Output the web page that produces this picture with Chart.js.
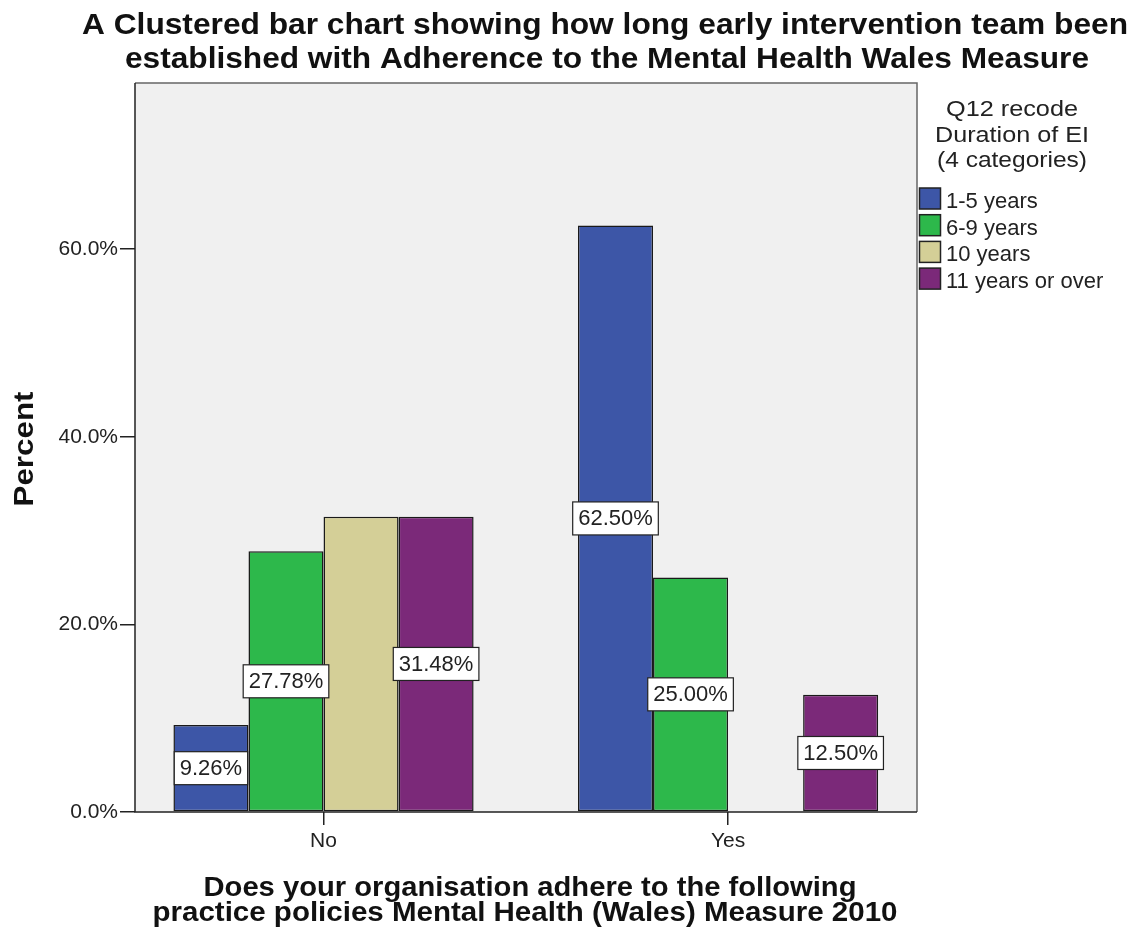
<!DOCTYPE html>
<html>
<head>
<meta charset="utf-8">
<script src="https://cdn.jsdelivr.net/npm/chart.js@4/dist/chart.umd.min.js"></script>
<style>
  html, body { margin: 0; padding: 0; background: #fff; }
  canvas { display: block; }
</style>
</head>
<body>
<canvas id="adherenceChart" width="1147" height="936"></canvas>
<script>
const adherenceGroups = ["No", "Yes"];
const durationLabels = ["1-5 years", "6-9 years", "10 years", "11 years or over"];
const years1to5 = [9.26, 62.5];
const years6to9 = [27.78, 25.0];
const years10 = [31.48, null];
const years11plus = [31.48, 12.5];
// the 10 years bar in the "No" cluster has no value box
const showValue = [[true, true], [true, true], [false, false], [true, true]];
const percentTicks = [0, 20, 40, 60];
const legendTitleLines = ["Q12 recode", "Duration of EI", "(4 categories)"];
const titleLines = [
  "A Clustered bar chart showing how long early intervention team been",
  "established with Adherence to the Mental Health Wales Measure"
];
const xTitleLines = [
  "Does your organisation adhere to the following",
  "practice policies Mental Health (Wales) Measure 2010"
];
const yTitle = "Percent";

const seriesColors = ["#3d56a7", "#2db84b", "#d4cf97", "#7b2979"];
const FONT = '"Liberation Sans", Arial, sans-serif';

const toPoints = (values) => values.map((v, i) => ({ x: i, y: v }));

// draws text squeezed or stretched to a given width
function fitText(ctx, text, x, y, width) {
  const w = ctx.measureText(text).width;
  ctx.save();
  ctx.translate(x, y);
  ctx.scale(width / w, 1);
  ctx.fillText(text, 0, 0);
  ctx.restore();
}

const plotFrame = {
  id: "plotFrame",
  beforeDatasetsDraw(chart) {
    const { ctx, chartArea: a } = chart;
    ctx.save();
    ctx.fillStyle = "#f0f0f0";
    ctx.fillRect(a.left, a.top, a.right - a.left, a.bottom - a.top);
    ctx.restore();
  },
  afterDatasetsDraw(chart) {
    const { ctx, chartArea: a } = chart;
    ctx.save();
    ctx.lineWidth = 1.5;
    ctx.strokeStyle = "#666";
    ctx.beginPath();
    ctx.moveTo(a.left, a.top);
    ctx.lineTo(a.right, a.top);
    ctx.lineTo(a.right, a.bottom);
    ctx.stroke();
    ctx.strokeStyle = "#222";
    ctx.beginPath();
    ctx.moveTo(a.left, a.top);
    ctx.lineTo(a.left, a.bottom);
    ctx.lineTo(a.right, a.bottom);
    ctx.stroke();
    ctx.restore();
  }
};

const valueBoxes = {
  id: "valueBoxes",
  afterDatasetsDraw(chart) {
    const ctx = chart.ctx;
    ctx.save();
    ctx.font = "22px " + FONT;
    ctx.textAlign = "center";
    ctx.textBaseline = "middle";
    chart.data.datasets.forEach((ds, di) => {
      const meta = chart.getDatasetMeta(di);
      meta.data.forEach((bar, i) => {
        const v = ds.data[i].y;
        if (v === null || !showValue[di][i]) return;
        const text = v.toFixed(2) + "%";
        const w = ctx.measureText(text).width + 11;
        const h = 33;
        const cy = (bar.y + bar.base) / 2;
        ctx.fillStyle = "#fff";
        ctx.fillRect(bar.x - w / 2, cy - h / 2, w, h);
        ctx.strokeStyle = "#222";
        ctx.lineWidth = 1.2;
        ctx.strokeRect(bar.x - w / 2, cy - h / 2, w, h);
        ctx.fillStyle = "#222";
        ctx.fillText(text, bar.x, cy + 1);
      });
    });
    ctx.restore();
  }
};

const textLayer = {
  id: "textLayer",
  afterDraw(chart) {
    const ctx = chart.ctx;
    ctx.save();
    ctx.fillStyle = "#111";
    ctx.textAlign = "center";
    ctx.textBaseline = "alphabetic";

    // main title
    ctx.font = "bold 30px " + FONT;
    fitText(ctx, titleLines[0], 605, 34, 1046);
    fitText(ctx, titleLines[1], 607, 68, 964);

    // axis titles
    ctx.font = "bold 27px " + FONT;
    fitText(ctx, xTitleLines[0], 530, 896, 653);
    fitText(ctx, xTitleLines[1], 525, 921, 745);
    ctx.save();
    ctx.translate(33, 449);
    ctx.rotate(-Math.PI / 2);
    ctx.font = "bold 28px " + FONT;
    fitText(ctx, yTitle, 0, 0, 115);
    ctx.restore();

    // legend
    ctx.fillStyle = "#222";
    ctx.font = "22px " + FONT;
    legendTitleLines.forEach((line, i) => {
      fitText(ctx, line, 1012, 116 + i * 25.5, [132, 154, 150][i]);
    });
    ctx.textAlign = "left";
    chart.data.datasets.forEach((ds, i) => {
      const y = 188 + i * 26.7;
      ctx.fillStyle = ds.backgroundColor;
      ctx.fillRect(919.5, y, 21, 21);
      ctx.strokeStyle = "#222";
      ctx.lineWidth = 1.5;
      ctx.strokeRect(919.5, y, 21, 21);
      ctx.fillStyle = "#222";
      ctx.fillText(ds.label, 946, y + 20);
    });
    ctx.restore();
  }
};

const series = [years1to5, years6to9, years10, years11plus];

new Chart(document.getElementById("adherenceChart"), {
  type: "bar",
  data: {
    datasets: series.map((values, i) => ({
      label: durationLabels[i],
      data: toPoints(values),
      backgroundColor: seriesColors[i],
      borderColor: "#1a1a1a",
      borderWidth: 1.5,
      borderSkipped: false,
      categoryPercentage: 0.742,
      barPercentage: 1.0
    }))
  },
  options: {
    responsive: false,
    animation: false,
    devicePixelRatio: 1,
    layout: { padding: { top: 83, right: 230, bottom: 0, left: 0 } },
    plugins: {
      legend: { display: false },
      tooltip: { enabled: false }
    },
    scales: {
      x: {
        type: "linear",
        min: -0.466,
        max: 1.467,
        offset: false,
        afterBuildTicks: (scale) => {
          scale.ticks = adherenceGroups.map((_, i) => ({ value: i }));
        },
        afterFit: (scale) => { scale.height = 124; },
        ticks: {
          autoSkip: false,
          maxRotation: 0,
          padding: 4,
          color: "#222",
          font: { family: FONT, size: 21 },
          callback: (v) => adherenceGroups[v]
        },
        grid: { offset: false, drawOnChartArea: false, tickLength: 13, color: "#222", lineWidth: 1.5 },
        border: { display: false }
      },
      y: {
        min: 0,
        max: 77.7,
        afterBuildTicks: (scale) => {
          scale.ticks = percentTicks.map((v) => ({ value: v }));
        },
        afterFit: (scale) => { scale.width = 135; },
        ticks: {
          padding: 2,
          color: "#222",
          font: { family: FONT, size: 21 },
          callback: (v) => v.toFixed(1) + "%"
        },
        grid: { drawOnChartArea: false, tickLength: 15, color: "#222", lineWidth: 1.5 },
        border: { display: false }
      }
    }
  },
  plugins: [plotFrame, valueBoxes, textLayer]
});
</script>
</body>
</html>
